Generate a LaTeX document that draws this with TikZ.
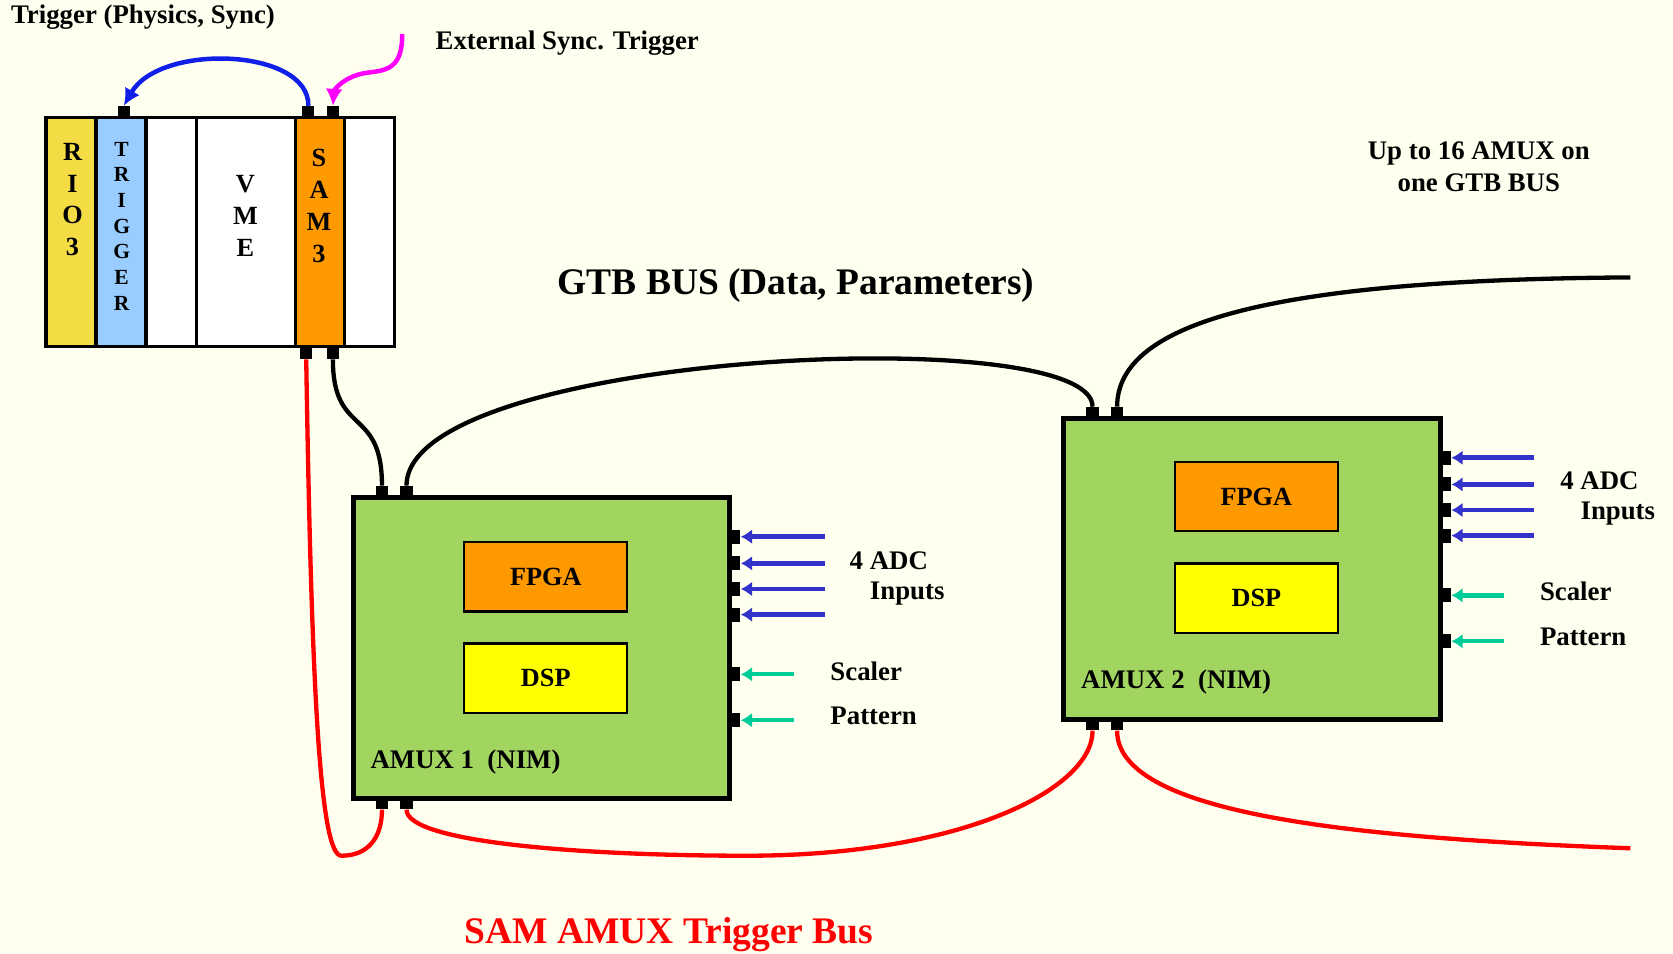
\documentclass[tikz,border=0pt]{standalone}
\usepackage{fontspec}
\setmainfont{Liberation Serif}
\usetikzlibrary{arrows.meta}
\definecolor{bgcream}{HTML}{FFFFF0}
\definecolor{rioyellow}{HTML}{F4DC45}
\definecolor{trigblue}{HTML}{99CCFF}
\definecolor{samorange}{HTML}{FF9900}
\definecolor{nimgreen}{HTML}{A2D460}
\definecolor{dspyellow}{HTML}{FFFF00}
\definecolor{adcblue}{HTML}{3333CC}
\definecolor{auxteal}{HTML}{00CC99}
\definecolor{loopblue}{HTML}{1020E8}
\definecolor{extmagenta}{HTML}{FF00FF}
\definecolor{busred}{HTML}{FF0000}

\begin{document}
\begin{tikzpicture}[x=0.02cm, y=-0.02cm,
  lbl/.style={font=\fontsize{14.3}{17}\selectfont\bfseries, inner sep=0pt},
  slot/.style={draw, line width=1.8pt, minimum width=0.94cm, minimum height=4.3cm, inner sep=0pt},
  crate/.style={font=\fontsize{14}{17}\selectfont\bfseries, align=center, inner sep=0pt},
  amux/.style={draw, fill=nimgreen, line width=2.6pt, minimum width=7.06cm, minimum height=5.64cm},
  chip/.style={draw, line width=1.2pt, minimum width=3.06cm, minimum height=1.3cm, font=\fontsize{14}{17}\selectfont\bfseries},
  port/.style={fill=black, minimum width=0.23cm, minimum height=0.22cm, inner sep=0pt},
  sideport/.style={port, minimum width=0.2cm, minimum height=0.26cm},
  cable/.style={line width=2.3pt},
  adcin/.style={line width=2.4pt, draw=adcblue, -{Latex[length=6pt,width=8pt]}},
  auxin/.style={line width=2.3pt, draw=auxteal, -{Latex[length=6pt,width=8pt]}},
  trigarrow/.style={line width=2.4pt, -{Latex[length=9pt,width=9pt]}}
]
\path[use as bounding box, fill=bgcream] (0,0) rectangle (1568,894);

\node[slot, fill=rioyellow] (rio) at (66.5,217.5) {};
\node[slot, fill=trigblue] (trig) at (113.5,217.5) {};
\node[slot, fill=white] (spare1) at (160.5,217.5) {};
\node[slot, fill=white, minimum width=1.86cm] (vme) at (230.5,217.5) {};
\node[slot, fill=samorange, minimum width=0.92cm] (sam) at (300,217.5) {};
\node[slot, fill=white] (spare2) at (346.5,217.5) {};

\node[crate] (rioL) at (68,187) {R\\I\\O\\3};
\node[crate, font=\fontsize{11.5}{13.7}\selectfont\bfseries] (trigL) at (114,212) {T\\R\\I\\G\\G\\E\\R};
\node[crate] (vmeL) at (230,202) {V\\M\\E};
\node[crate] (samL) at (299,193) {S\\A\\M\\3};

\node[port] (trigIn) at (116,105) {};
\node[port] (samOut) at (289,105) {};
\node[port] (samExt) at (312,105) {};
\node[port] (samTrg) at (287,331) {};
\node[port] (samGtb) at (312,331) {};

\node[amux] (amux1) at (507.5,607) {};
\node[chip, fill=samorange] (fpga1) at (511.5,540.5) {FPGA};
\node[chip, fill=dspyellow] (dsp1) at (511.5,635.5) {DSP};
\node[lbl, anchor=west] (amux1L) at (347,714) {AMUX 1~~(NIM)};
\node[port] (gtb1a) at (358,461) {};
\node[port] (gtb1b) at (381,461) {};
\node[port] (trg1a) at (358,753) {};
\node[port] (trg1b) at (381,753) {};

\node[amux] (amux2) at (1173.5,533) {};
\node[chip, fill=samorange] (fpga2) at (1177.5,465.5) {FPGA};
\node[chip, fill=dspyellow] (dsp2) at (1177.5,560.5) {DSP};
\node[lbl, anchor=west] (amux2L) at (1013,639) {AMUX 2~~(NIM)};
\node[port] (gtb2a) at (1024,387) {};
\node[port] (gtb2b) at (1047,387) {};
\node[port] (trg2a) at (1024,679) {};
\node[port] (trg2b) at (1047,679) {};

\foreach \y [count=\i] in {503,528,552,576} {
  \node[sideport] (a1adc\i) at (689,\y) {};
  \coordinate (a1src\i) at (773,\y);
  \draw[adcin] (a1src\i) -- (a1adc\i.east);
}
\foreach \y [count=\i] in {429,454,478,502} {
  \node[sideport] (a2adc\i) at (1355,\y) {};
  \coordinate (a2src\i) at (1438,\y);
  \draw[adcin] (a2src\i) -- (a2adc\i.east);
}
\foreach \y/\n in {632/scal,675/patt} {
  \node[sideport] (a1\n) at (689,\y) {};
  \coordinate (a1\n src) at (744,\y);
  \draw[auxin] (a1\n src) -- (a1\n.east);
}
\foreach \y/\n in {558/scal,601/patt} {
  \node[sideport] (a2\n) at (1355,\y) {};
  \coordinate (a2\n src) at (1410,\y);
  \draw[auxin] (a2\n src) -- (a2\n.east);
}

\node[lbl, anchor=west] (adc1L) at (796,526) {4 ADC};
\node[lbl, anchor=west] (inp1L) at (815,556) {Inputs};
\node[lbl, anchor=west] (scal1L) at (778,629) {Scaler};
\node[lbl, anchor=west] (patt1L) at (778,671) {Pattern};
\node[lbl, anchor=west] (adc2L) at (1462,451) {4 ADC};
\node[lbl, anchor=west] (inp2L) at (1481,481) {Inputs};
\node[lbl, anchor=west] (scal2L) at (1443,554) {Scaler};
\node[lbl, anchor=west] (patt2L) at (1443,597) {Pattern};

\draw[cable] (samGtb.south) .. controls (312,410) and (358,380) .. (gtb1a.north);
\draw[cable] (gtb1b.north) .. controls (381,330) and (1024,300) .. (gtb2a.north);
\coordinate (gtbEnd) at (1528,260);
\draw[cable] (gtb2b.north) .. controls (1047,300) and (1200,262) .. (gtbEnd);

\coordinate (loopLow) at (320,802);
\draw[cable, draw=busred] (samTrg.south) .. controls (292,650) and (300,802) .. (loopLow) .. controls (345,802) and (358,785) .. (trg1a.south);
\coordinate (busLow) at (700,802);
\draw[cable, draw=busred] (trg1b.south) .. controls (381,790) and (550,802) .. (busLow) .. controls (900,802) and (1024,740) .. (trg2a.south);
\coordinate (trgEnd) at (1528,795);
\draw[cable, draw=busred] (trg2b.south) .. controls (1047,760) and (1250,785) .. (trgEnd);

\draw[trigarrow, draw=loopblue] (samOut.north) .. controls (290,45) and (150,40) .. (trigIn.north);
\coordinate (extSrc) at (377,32);
\draw[trigarrow, draw=extmagenta] (extSrc) .. controls (377,62) and (365,66) .. (345,68) .. controls (322,71) and (313,85) .. (samExt.north);

\node[lbl, anchor=west] (trigTxt) at (10,16) {Trigger (Physics, Sync)};
\node[lbl, anchor=west] (extTxt) at (408,40) {External Sync. Trigger};
\node[font=\fontsize{20}{24}\selectfont\bfseries, inner sep=0pt] (gtbTxt) at (746,268) {GTB BUS (Data, Parameters)};
\node[lbl, align=center] (maxTxt) at (1386,156) {Up to 16 AMUX on\\one GTB BUS};
\node[font=\fontsize{20}{24}\selectfont\bfseries, text=busred, inner sep=0pt] (busTxt) at (627,876) {SAM AMUX Trigger Bus};
\end{tikzpicture}
\end{document}
